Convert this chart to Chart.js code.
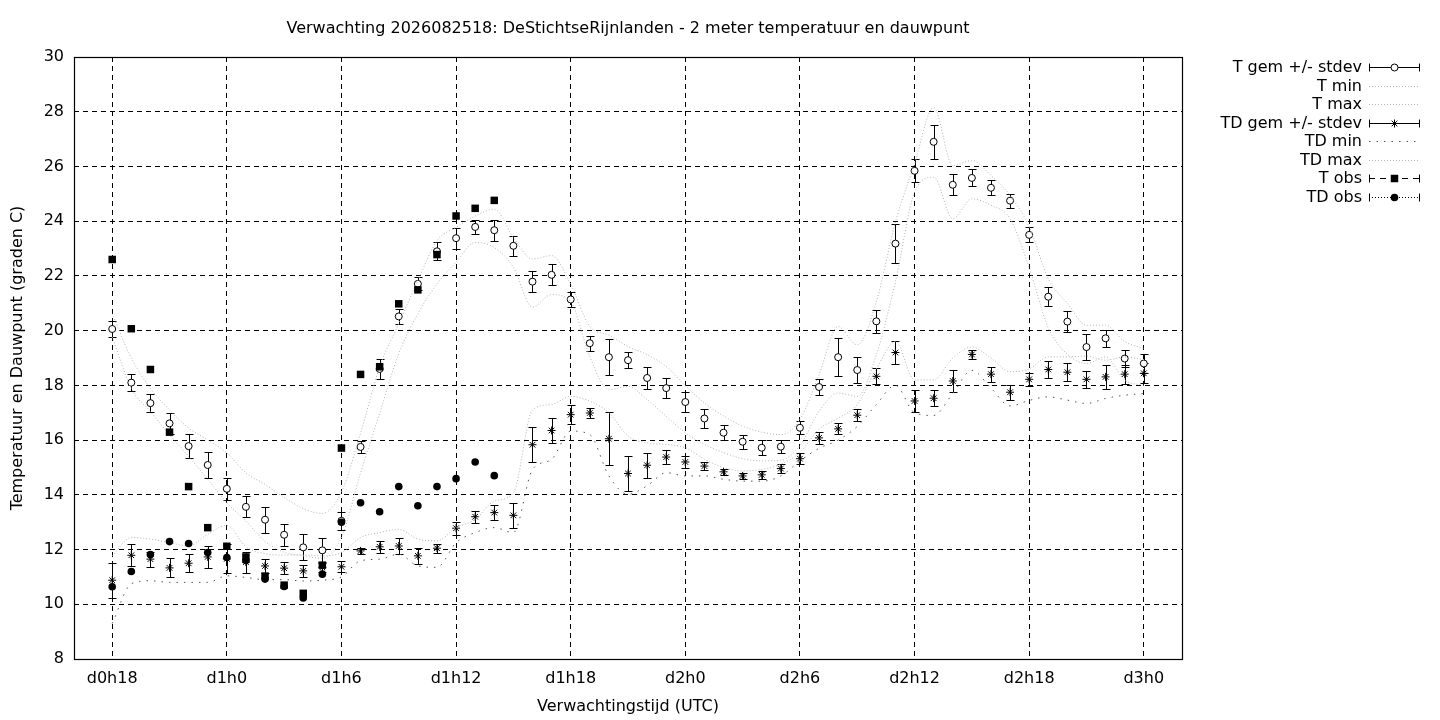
<!DOCTYPE html>
<html>
<head>
<meta charset="utf-8">
<title>Verwachting 2026082518</title>
<script src="https://cdn.jsdelivr.net/npm/chart.js@4.4.1/dist/chart.umd.min.js"></script>
<style>
  html, body { margin: 0; padding: 0; background: #fff; }
  canvas { display: block; }
</style>
</head>
<body>
<canvas id="chart" width="1440" height="720" style="width:1440px;height:720px"></canvas>
<script>
// forecast hours (hours since d0h0)
const hours = [18, 19, 20, 21, 22, 23, 24, 25, 26, 27, 28, 29, 30, 31, 32, 33, 34, 35, 36,
    37, 38, 39, 40, 41, 42, 43, 44, 45, 46, 47, 48, 49, 50, 51, 52, 53, 54, 55,
    56, 57, 58, 59, 60, 61, 62, 63, 64, 65, 66, 67, 68, 69, 70, 71, 72];

const tGem = [20.06, 18.10, 17.35, 16.61, 15.78, 15.09, 14.22, 13.56, 13.09, 12.54, 12.08, 11.97, 13.05,
    15.75, 18.60, 20.52, 21.71, 22.90, 23.38, 23.79, 23.67, 23.10, 21.79, 22.04, 21.14, 19.54, 19.03,
    18.92, 18.27, 17.90, 17.39, 16.79, 16.27, 15.94, 15.72, 15.76, 16.45, 17.94, 19.03, 18.56, 20.34,
    23.18, 25.84, 26.90, 25.33, 25.58, 25.22, 24.75, 23.50, 21.24, 20.33, 19.40, 19.72, 18.98, 18.80];
const tSd = [0.30, 0.30, 0.34, 0.39, 0.45, 0.48, 0.40, 0.38, 0.48, 0.40, 0.47, 0.47, 0.33,
    0.22, 0.35, 0.28, 0.24, 0.33, 0.38, 0.27, 0.38, 0.36, 0.38, 0.39, 0.27, 0.28, 0.65,
    0.29, 0.40, 0.36, 0.36, 0.36, 0.28, 0.25, 0.27, 0.23, 0.24, 0.28, 0.70, 0.47, 0.42,
    0.71, 0.42, 0.62, 0.39, 0.31, 0.28, 0.25, 0.27, 0.35, 0.37, 0.47, 0.30, 0.32, 0.33];
const tMin = [19.77, 17.89, 17.04, 16.19, 15.40, 14.56, 13.71, 13.04, 12.30, 11.90, 11.77, 11.68, 12.45,
    14.80, 16.98, 19.16, 20.62, 21.71, 22.50, 23.22, 23.04, 22.32, 20.86, 21.32, 21.05, 19.05, 17.84,
    17.96, 17.48, 16.87, 16.27, 15.84, 15.54, 15.32, 15.24, 15.26, 15.80, 17.05, 17.72, 17.60, 19.12,
    21.79, 25.06, 25.61, 24.09, 24.82, 24.58, 24.09, 22.30, 20.10, 19.14, 18.80, 19.04, 18.19, 18.00];
const tMax = [20.62, 19.00, 17.89, 17.10, 16.44, 16.01, 15.53, 14.80, 14.38, 13.90, 13.50, 13.32, 14.10,
    16.25, 18.68, 20.25, 21.83, 23.28, 23.77, 24.19, 24.44, 23.40, 22.62, 22.74, 21.70, 20.15, 19.84,
    19.42, 19.12, 18.69, 17.99, 17.36, 16.88, 16.51, 16.29, 16.20, 16.75, 18.39, 20.15, 19.48, 21.06,
    23.97, 26.10, 28.16, 26.03, 26.22, 25.67, 24.94, 23.80, 21.90, 21.00, 20.20, 20.20, 19.60, 19.35];

const tdGem = [10.88, 11.79, 11.65, 11.33, 11.50, 11.73, 11.66, 11.54, 11.40, 11.32, 11.22, 11.35, 11.37,
    11.95, 12.10, 12.13, 11.77, 12.05, 12.78, 13.20, 13.35, 13.25, 15.83, 16.35, 16.93, 16.99, 16.05,
    14.78, 15.08, 15.38, 15.20, 15.05, 14.84, 14.69, 14.73, 14.96, 15.32, 16.08, 16.41, 16.91, 18.33,
    19.20, 17.43, 17.53, 18.16, 19.13, 18.41, 17.75, 18.22, 18.58, 18.48, 18.22, 18.31, 18.41, 18.44];
const tdSd = [0.64, 0.40, 0.27, 0.35, 0.32, 0.40, 0.53, 0.38, 0.27, 0.22, 0.22, 0.18, 0.20,
    0.12, 0.23, 0.28, 0.30, 0.16, 0.24, 0.22, 0.27, 0.45, 0.64, 0.45, 0.35, 0.18, 0.96,
    0.65, 0.46, 0.27, 0.23, 0.15, 0.12, 0.10, 0.15, 0.17, 0.20, 0.23, 0.20, 0.21, 0.29,
    0.41, 0.39, 0.30, 0.39, 0.16, 0.27, 0.27, 0.25, 0.32, 0.33, 0.30, 0.44, 0.35, 0.36];
const tdMin = [9.30, 10.75, 10.86, 10.80, 10.80, 10.80, 11.04, 10.98, 10.90, 10.90, 10.85, 10.88, 11.00,
    11.59, 11.65, 11.83, 11.40, 11.35, 12.25, 12.62, 12.80, 12.62, 14.92, 15.30, 16.33, 16.20, 14.69,
    14.02, 14.33, 14.81, 14.69, 14.69, 14.57, 14.50, 14.50, 14.69, 15.24, 15.70, 16.00, 16.50, 17.30,
    18.00, 17.00, 16.90, 17.70, 18.55, 17.90, 17.25, 17.45, 17.58, 17.46, 17.34, 17.52, 17.64, 17.70];
const tdMax = [11.77, 12.44, 12.38, 12.25, 12.13, 12.56, 12.88, 12.10, 11.85, 11.80, 11.80, 11.77, 11.89,
    12.44, 12.62, 12.74, 12.38, 12.32, 12.80, 13.10, 13.77, 14.07, 17.10, 17.30, 17.60, 17.42, 17.00,
    16.15, 15.90, 15.84, 15.72, 15.30, 15.00, 14.87, 14.93, 15.12, 15.55, 16.40, 16.80, 17.30, 18.60,
    19.60, 18.20, 18.20, 19.00, 19.40, 19.00, 18.50, 18.60, 19.04, 19.04, 19.07, 18.92, 19.04, 18.94];

// observations
const obsHours = [18, 19, 20, 21, 22, 23, 24, 25, 26, 27, 28, 29, 30, 31, 32, 33, 34, 35, 36, 37, 38];
const tObs = [22.60, 20.07, 18.58, 16.29, 14.30, 12.80, 12.12, 11.73, 11.03, 10.70, 10.40, 11.43,
    15.71, 18.40, 18.68, 20.98, 21.49, 22.78, 24.19, 24.47, 24.76];
const tdObs = [10.64, 11.20, 11.82, 12.29, 12.22, 11.89, 11.71, 11.60, 10.92, 10.65, 10.23, 11.10,
    13.00, 13.71, 13.38, 14.30, 13.60, 14.30, 14.59, 15.20, 14.70];

const xTicks = [18, 24, 30, 36, 42, 48, 54, 60, 66, 72];
const xTickLabels = ['d0h18', 'd1h0', 'd1h6', 'd1h12', 'd1h18', 'd2h0', 'd2h6', 'd2h12', 'd2h18', 'd3h0'];

const FONT = 'DejaVu Sans';
const FSIZE = 16;
const pts = (xs, ys) => ys.map((v, i) => ({ x: xs[i], y: v }));

// error bars, frame, titles and gnuplot-style key
const decor = {
    id: 'decor',
    beforeDatasetsDraw(chart) {
        const ctx = chart.ctx;
        const x = chart.scales.x, y = chart.scales.y;
        ctx.save();
        ctx.strokeStyle = '#000';
        ctx.lineWidth = 1;
        chart.data.datasets.forEach(ds => {
            if (!ds.sd) return;
            ds.data.forEach((p, i) => {
                const px = Math.round(x.getPixelForValue(p.x)) + 0.5;
                const y1 = Math.round(y.getPixelForValue(p.y - ds.sd[i])) + 0.5;
                const y2 = Math.round(y.getPixelForValue(p.y + ds.sd[i])) + 0.5;
                ctx.beginPath();
                ctx.moveTo(px, y1); ctx.lineTo(px, y2);
                ctx.moveTo(px - 4, y1); ctx.lineTo(px + 4, y1);
                ctx.moveTo(px - 4, y2); ctx.lineTo(px + 4, y2);
                ctx.stroke();
            });
        });
        ctx.restore();
    },
    afterDraw(chart) {
        const ctx = chart.ctx;
        const a = chart.chartArea;
        ctx.save();
        ctx.strokeStyle = '#000';
        ctx.lineWidth = 1.2;
        ctx.strokeRect(a.left + 0.5, a.top + 0.5, a.right - a.left, a.bottom - a.top);

        ctx.fillStyle = '#000';
        ctx.font = FSIZE + 'px "' + FONT + '"';
        ctx.textAlign = 'center';
        ctx.textBaseline = 'middle';
        const cx = (a.left + a.right) / 2;
        ctx.fillText('Verwachting 2026082518: DeStichtseRijnlanden - 2 meter temperatuur en dauwpunt', cx, 29);
        ctx.fillText('Verwachtingstijd (UTC)', cx, 707);
        ctx.save();
        ctx.translate(18, (a.top + a.bottom) / 2);
        ctx.rotate(-Math.PI / 2);
        ctx.fillText('Temperatuur en Dauwpunt (graden C)', 0, 0);
        ctx.restore();

        // key
        const textX = 1362, x0 = 1369, x1 = 1420, xm = (x0 + x1) / 2;
        chart.data.datasets.forEach((ds, i) => {
            const ly = Math.round(67 + i * 18.5) + 0.5;
            ctx.fillStyle = '#000';
            ctx.textAlign = 'right';
            ctx.fillText(ds.label, textX, ly);
            ctx.save();
            ctx.strokeStyle = ds.keyColor;
            ctx.lineWidth = 1;
            ctx.setLineDash(ds.keyDash);
            ctx.beginPath();
            ctx.moveTo(x0, ly); ctx.lineTo(x1, ly);
            ctx.stroke();
            ctx.setLineDash([]);
            if (ds.keyCaps) {
                ctx.strokeStyle = '#000';
                ctx.beginPath();
                ctx.moveTo(x0 + 0.5, ly - 4); ctx.lineTo(x0 + 0.5, ly + 4);
                ctx.moveTo(x1 - 0.5, ly - 4); ctx.lineTo(x1 - 0.5, ly + 4);
                ctx.stroke();
            }
            if (ds.pointRadius > 0) {
                ctx.fillStyle = ds.pointBackgroundColor;
                ctx.strokeStyle = ds.pointBorderColor;
                ctx.lineWidth = ds.pointBorderWidth;
                Chart.helpers.drawPoint(ctx, {
                    pointStyle: ds.pointStyle, radius: ds.pointRadius, rotation: 0,
                    borderWidth: ds.pointBorderWidth
                }, xm, ly);
            }
            ctx.restore();
        });
        ctx.restore();
    }
};

const lineSet = (label, xs, ys, color, dash, order) => ({
    label: label, data: pts(xs, ys), borderColor: color, borderWidth: 1, borderDash: dash,
    pointRadius: 0, cubicInterpolationMode: 'monotone', fill: false, order: order,
    keyColor: color, keyDash: dash, keyCaps: false
});

const ctx = document.getElementById('chart').getContext('2d');
new Chart(ctx, {
    type: 'line',
    data: {
        datasets: [
            {
                label: 'T gem +/- stdev', data: pts(hours, tGem), showLine: false, sd: tSd,
                pointStyle: 'circle', pointRadius: 3.5, pointBackgroundColor: '#fff',
                pointBorderColor: '#000', pointBorderWidth: 1, order: 8,
                keyColor: '#000', keyDash: [], keyCaps: true
            },
            lineSet('T min', hours, tMin, '#b4b4b4', [1, 2], 7),
            lineSet('T max', hours, tMax, '#b4b4b4', [1, 2], 6),
            {
                label: 'TD gem +/- stdev', data: pts(hours, tdGem), showLine: false, sd: tdSd,
                pointStyle: 'star', pointRadius: 4, pointBackgroundColor: '#000',
                pointBorderColor: '#000', pointBorderWidth: 1, order: 5,
                keyColor: '#000', keyDash: [], keyCaps: true
            },
            lineSet('TD min', hours, tdMin, '#555555', [1.5, 6], 4),
            lineSet('TD max', hours, tdMax, '#b4b4b4', [1, 2], 3),
            {
                label: 'T obs', data: pts(obsHours, tObs), showLine: false,
                pointStyle: 'rect', pointRadius: 5.3, pointBackgroundColor: '#000',
                pointBorderColor: '#000', pointBorderWidth: 0, order: 2,
                keyColor: '#000', keyDash: [6, 5], keyCaps: true
            },
            {
                label: 'TD obs', data: pts(obsHours, tdObs), showLine: false,
                pointStyle: 'circle', pointRadius: 3.8, pointBackgroundColor: '#000',
                pointBorderColor: '#000', pointBorderWidth: 0, order: 1,
                keyColor: '#000', keyDash: [1, 2], keyCaps: true
            }
        ]
    },
    options: {
        responsive: false,
        animation: false,
        devicePixelRatio: 1,
        events: [],
        layout: { padding: { left: 0, top: 57, right: 258, bottom: 0 } },
        plugins: { legend: { display: false }, tooltip: { enabled: false }, title: { display: false } },
        scales: {
            x: {
                type: 'linear', min: 16, max: 74,
                afterBuildTicks: s => { s.ticks = xTicks.map(v => ({ value: v })); },
                afterFit: s => { s.height = 61; },
                ticks: {
                    callback: v => xTickLabels[xTicks.indexOf(v)],
                    color: '#000', font: { family: FONT, size: FSIZE },
                    maxRotation: 0, autoSkip: false, padding: 10
                },
                grid: { color: '#000', lineWidth: 1, drawTicks: false },
                border: { display: false, dash: [5, 4] }
            },
            y: {
                min: 8, max: 30,
                afterFit: s => { s.width = 74; },
                ticks: { stepSize: 2, color: '#000', font: { family: FONT, size: FSIZE }, padding: 10 },
                grid: { color: '#000', lineWidth: 1, drawTicks: false },
                border: { display: false, dash: [5, 4] }
            }
        }
    },
    plugins: [decor]
});
</script>
</body>
</html>
